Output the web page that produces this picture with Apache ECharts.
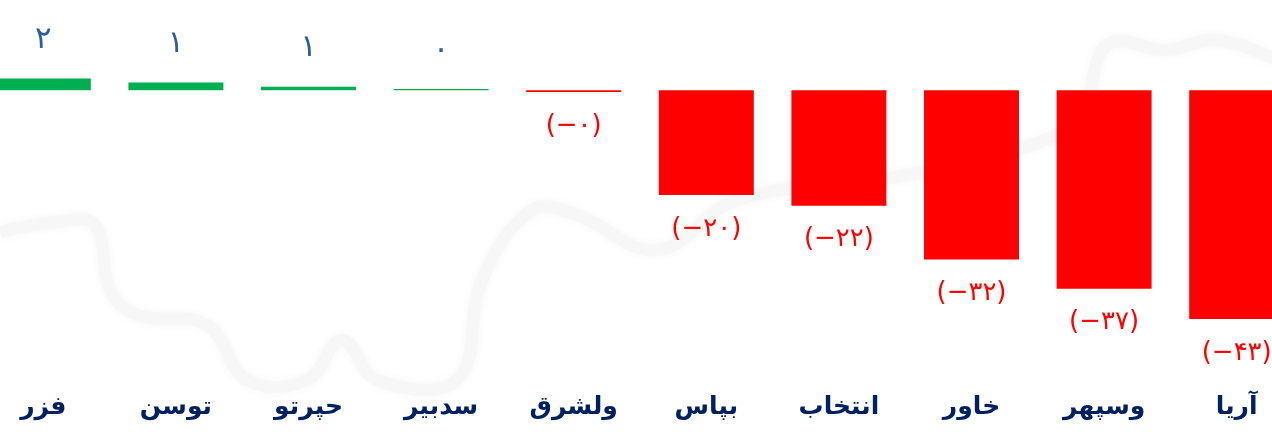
<!DOCTYPE html>
<html>
<head>
<meta charset="utf-8">
<script src="https://cdn.jsdelivr.net/npm/echarts@6/dist/echarts.min.js"></script>
<style>
html,body{margin:0;padding:0;background:#ffffff;overflow:hidden;width:1272px;height:435px;}
#chart{width:1326px;height:435px;margin-left:-23px;}
</style>
</head>
<body>
<div id="chart"></div>
<script>
const categories = ['فزر', 'توسن', 'حپرتو', 'سدبیر', 'ولشرق', 'بپاس', 'انتخاب', 'خاور', 'وسپهر', 'آریا'];
const values = [2.2, 1.45, 0.65, 0.25, -0.3, -19.7, -21.7, -31.8, -37.3, -43];

const posColor = '#00b050';
const negColor = '#ff0000';
const posLabelColor = '#2f5f98';

function toFa(n) {
  return String(n).replace(/[0-9]/g, d => '۰۱۲۳۴۵۶۷۸۹'[+d]);
}
function fmt(v) {
  const r = Math.abs(Math.round(v));
  return v < 0 ? '(−' + toFa(r) + ')' : toFa(r);
}

const seriesData = values.map(v => ({
  value: v,
  itemStyle: { color: v < 0 ? negColor : posColor },
  label: {
    show: true,
    position: v < 0 ? 'bottom' : 'top',
    distance: v < 0 ? 21 : 23,
    color: v < 0 ? negColor : posLabelColor,
    fontSize: v < 0 ? 26 : 31,
    fontFamily: 'DejaVu Sans',
    formatter: () => fmt(v)
  }
}));

const chart = echarts.init(document.getElementById('chart'));
chart.setOption({
  animation: false,
  backgroundColor: '#ffffff',
  grid: { left: 0, right: 0, top: 10.5, height: 372.4, containLabel: false },
  graphic: [{
    type: 'polyline',
    z: -10,
    silent: true,
    shape: {
      smooth: 0.4,
      points: [[23, 232], [80, 222], [118, 225], [133, 290], [160, 315], [230, 325], [270, 380],
               [330, 380], [365, 340], [400, 380], [480, 380], [505, 280], [555, 210], [600, 215],
               [680, 250], [760, 200], [900, 180], [1000, 160], [1100, 120], [1130, 45], [1190, 50],
               [1240, 40], [1300, 60]]
    },
    style: { stroke: '#f7f7f7', lineWidth: 12, fill: null, shadowBlur: 10, shadowColor: 'rgba(0,0,0,0.04)' }
  }],
  xAxis: {
    type: 'category',
    data: categories,
    axisLine: { show: false },
    axisTick: { show: false },
    axisLabel: {
      color: '#002060',
      fontSize: 25,
      fontWeight: 'bold',
      fontFamily: 'DejaVu Sans',
      margin: 12,
      interval: 0
    }
  },
  yAxis: {
    type: 'value',
    min: -55,
    max: 15,
    show: false,
    splitLine: { show: false }
  },
  series: [{
    type: 'bar',
    data: seriesData,
    barWidth: 95
  }]
});
</script>
</body>
</html>
